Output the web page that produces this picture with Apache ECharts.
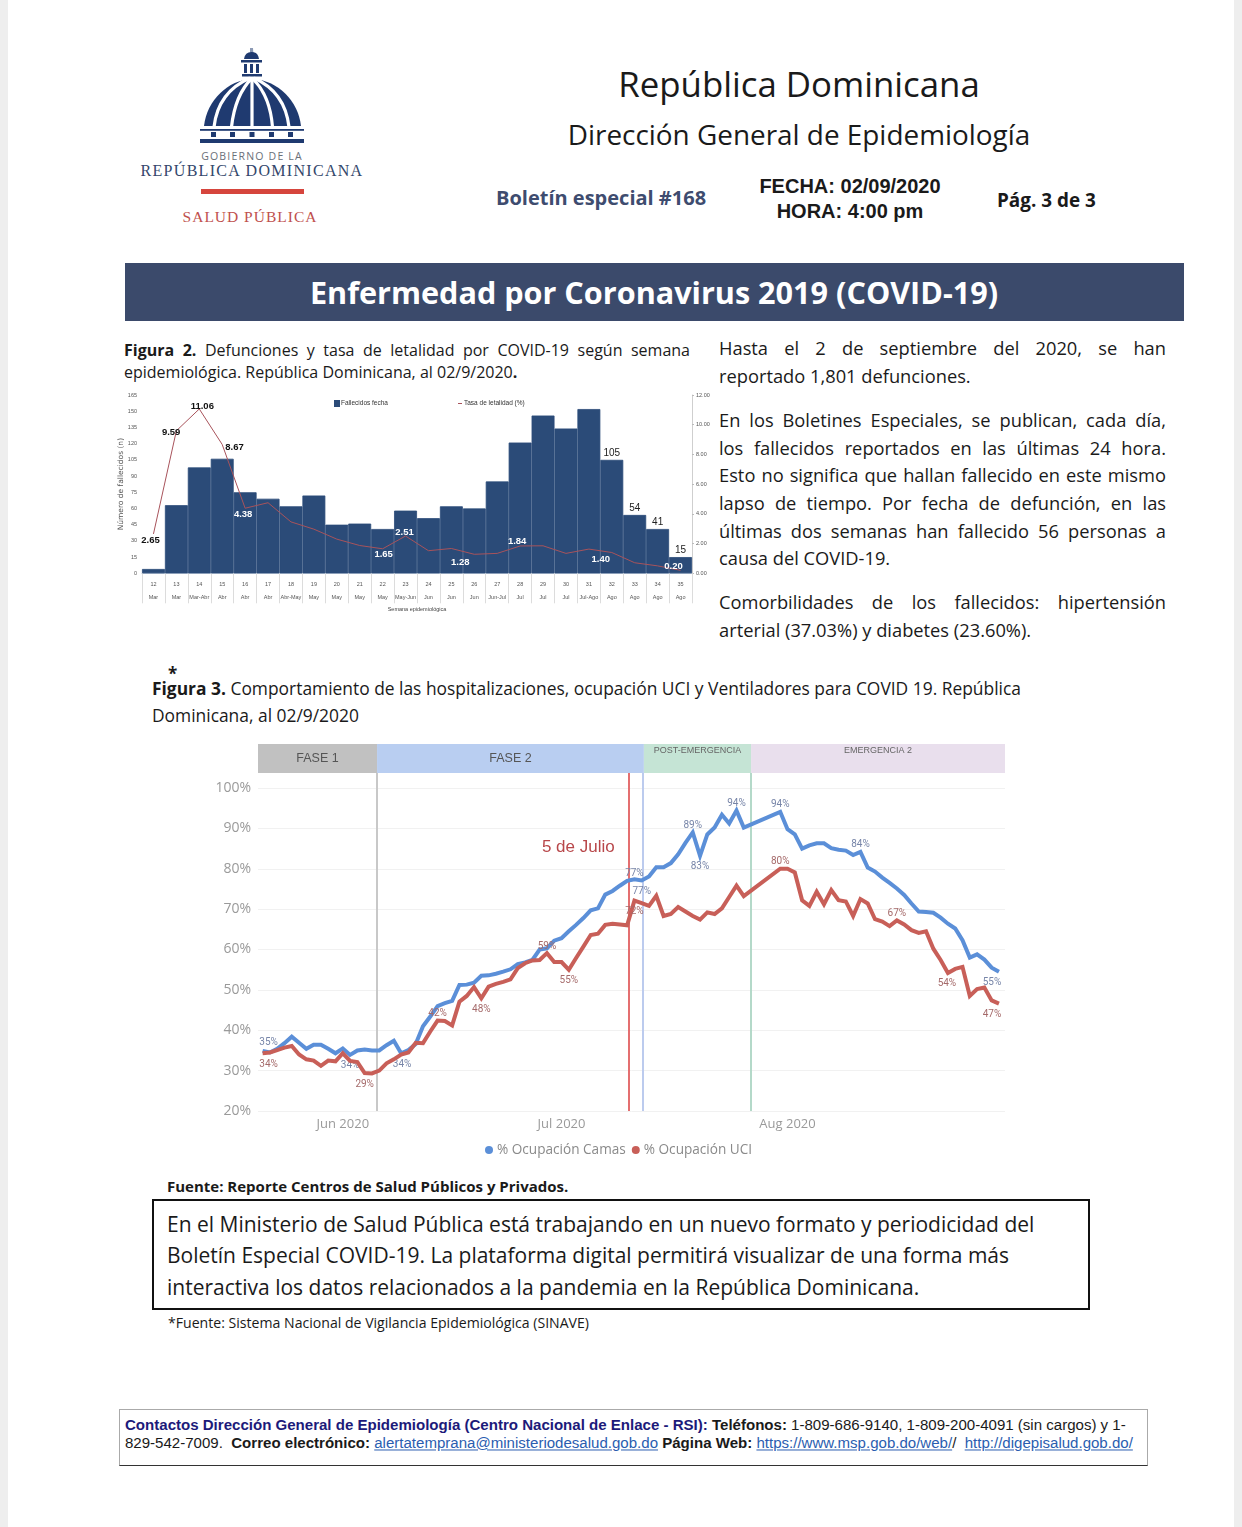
<!DOCTYPE html>
<html lang="es">
<head>
<meta charset="utf-8">
<title>Boletín especial #168</title>
<script src="https://cdn.jsdelivr.net/npm/echarts@6/dist/echarts.min.js"></script>
<style>
html,body{margin:0;padding:0;background:#fff;}
#page{position:relative;width:1242px;height:1527px;overflow:hidden;background:#fff;font-family:"Open Sans","Noto Sans",sans-serif;color:#1a1a1a;}
#chart{position:absolute;left:0;top:0;width:1242px;height:1527px;}
.t{position:absolute;white-space:nowrap;line-height:1;transform:translateY(-50%);}
.c{transform:translate(-50%,-50%);text-align:center;}
.j{text-align:justify;text-align-last:justify;white-space:normal;}
.ar{font-family:"Liberation Sans",Arial,sans-serif;}
.se{font-family:"Liberation Serif",serif;}
a{color:#2a5db0;text-decoration:underline;}
</style>
</head>
<body>
<div id="page">
  <div style="position:absolute;left:0;top:0;width:8px;height:1527px;background:#eeeeee;"></div>
  <div style="position:absolute;right:0;top:0;width:8px;height:1527px;background:#eeeeee;"></div>

  <svg style="position:absolute;left:0;top:0" width="400" height="240" viewBox="0 0 400 240">
    <path d="M250 48 L253 48 L253.5 57 L250 57 Z" fill="#8c9ab5"/>
    <path d="M244 59 Q245 52 251.5 52 Q258 52 259 59 Z" fill="#1f3a70"/>
    <rect x="241" y="60" width="21" height="2.5" fill="#1f3a70"/>
    <rect x="244" y="64" width="3" height="9" fill="#1f3a70"/><rect x="250" y="64" width="3" height="9" fill="#1f3a70"/><rect x="256" y="64" width="3" height="9" fill="#1f3a70"/>
    <rect x="242" y="74" width="20" height="2.5" fill="#1f3a70"/>
    <path d="M204 126 C207 100 228 80 252 79 C277 80 298 100 301 126 Z" fill="#1f3a70"/>
    <g fill="none" stroke="#fff" stroke-width="3.2">
      <path d="M252 78 L252 127"/>
      <path d="M252 78 Q235 95 231.5 127"/>
      <path d="M252 78 Q270 95 272.5 127"/>
      <path d="M250 78 Q218 92 214 127"/>
      <path d="M254 78 Q285 92 289 127"/>
    </g>
    <rect x="200" y="129" width="104" height="1.8" fill="#1f3a70"/>
    <g fill="#1f3a70"><rect x="211" y="132" width="5" height="5"/><rect x="230" y="132" width="5" height="5"/><rect x="249.500" y="132" width="5" height="5"/><rect x="269" y="132" width="5" height="5"/><rect x="288" y="132" width="5" height="5"/></g>
    <rect x="200" y="139" width="104" height="4" fill="#1f3a70"/>
    <rect x="201" y="189" width="103" height="5" fill="#d6453d"/>
  </svg>
  <div class="t c" style="left:252px;top:156px;font-size:10.500px;letter-spacing:1.200px;color:#6a6f78;">GOBIERNO DE LA</div>
  <div class="t c se" style="left:252px;top:171px;font-size:16px;letter-spacing:1.300px;color:#33476b;">REPÚBLICA DOMINICANA</div>
  <div class="t c se" style="left:250px;top:217px;font-size:15.500px;letter-spacing:1px;color:#c0504d;">SALUD PÚBLICA</div>

  <div class="t c" style="left:799px;top:84px;font-size:34.800px;">República Dominicana</div>
  <div class="t c" style="left:799px;top:135px;font-size:27.900px;">Dirección General de Epidemiología</div>
  <div class="t" style="left:496px;top:198px;font-size:20px;font-weight:700;color:#3e4c6f;">Boletín especial #168</div>
  <div class="t c ar" style="left:850px;top:186px;font-size:20px;font-weight:700;">FECHA: 02/09/2020</div>
  <div class="t c ar" style="left:850px;top:211px;font-size:20px;font-weight:700;">HORA: 4:00 pm</div>
  <div class="t" style="left:997px;top:200px;font-size:18.900px;font-weight:700;">Pág. 3 de 3</div>

  <div style="position:absolute;left:125px;top:263px;width:1059px;height:58px;background:#3b4a6b;"></div>
  <div class="t c" style="left:654px;top:292px;font-size:30.600px;font-weight:700;color:#fff;">Enfermedad por Coronavirus 2019 (COVID-19)</div>

  <div class="t j" style="left:124px;top:350px;width:566px;font-size:16px;"><b>Figura 2.</b> Defunciones y tasa de letalidad por COVID-19 según semana</div>
  <div class="t" style="left:124px;top:372px;font-size:16px;">epidemiológica. República Dominicana, al 02/9/2020<b>.</b></div>

  <div class="t j" style="left:719px;top:348px;width:447px;font-size:18.300px;">Hasta el 2 de septiembre del 2020, se han</div>
  <div class="t" style="left:719px;top:376px;font-size:18.300px;">reportado 1,801 defunciones.</div>
  <div class="t j" style="left:719px;top:420px;width:447px;font-size:18.300px;">En los Boletines Especiales, se publican, cada día,</div>
  <div class="t j" style="left:719px;top:448px;width:447px;font-size:18.300px;">los fallecidos reportados en las últimas 24 hora.</div>
  <div class="t j" style="left:719px;top:475px;width:447px;font-size:18.300px;">Esto no significa que hallan fallecido en este mismo</div>
  <div class="t j" style="left:719px;top:503px;width:447px;font-size:18.300px;">lapso de tiempo. Por fecha de defunción, en las</div>
  <div class="t j" style="left:719px;top:531px;width:447px;font-size:18.300px;">últimas dos semanas han fallecido 56 personas a</div>
  <div class="t" style="left:719px;top:558px;font-size:18.300px;">causa del COVID-19.</div>
  <div class="t j" style="left:719px;top:602px;width:447px;font-size:18.300px;">Comorbilidades de los fallecidos: hipertensión</div>
  <div class="t" style="left:719px;top:630px;font-size:18.300px;">arterial (37.03%) y diabetes (23.60%).</div>

  <div class="t" style="left:168px;top:673px;font-size:17px;font-weight:700;">*</div>
  <div class="t" style="left:152px;top:689px;font-size:17.400px;"><b>Figura 3.</b> Comportamiento de las hospitalizaciones, ocupación UCI y Ventiladores para COVID 19. República</div>
  <div class="t" style="left:152px;top:716px;font-size:17.400px;">Dominicana, al 02/9/2020</div>

  <div class="t" style="left:167px;top:1186px;font-size:15px;font-weight:700;">Fuente: Reporte Centros de Salud Públicos y Privados.</div>
  <div style="position:absolute;left:152px;top:1199px;width:934px;height:107px;border:2px solid #111;"></div>
  <div class="t" style="left:167px;top:1224px;font-size:21px;">En el Ministerio de Salud Pública está trabajando en un nuevo formato y periodicidad del</div>
  <div class="t" style="left:167px;top:1255px;font-size:21px;">Boletín Especial COVID-19. La plataforma digital permitirá visualizar de una forma más</div>
  <div class="t" style="left:167px;top:1287px;font-size:21px;">interactiva los datos relacionados a la pandemia en la República Dominicana.</div>
  <div class="t" style="left:168px;top:1323px;font-size:14.100px;">*Fuente: Sistema Nacional de Vigilancia Epidemiológica (SINAVE)</div>

  <div style="position:absolute;left:119px;top:1409px;width:1027px;height:55px;border:1px solid #aaa;border-bottom:1px solid #333;"></div>
  <div class="t ar" style="left:125px;top:1425px;font-size:15.050px;"><b style="color:#1c1a7a;">Contactos Dirección General de Epidemiología (Centro Nacional de Enlace - RSI):</b> <b>Teléfonos:</b> 1-809-686-9140, 1-809-200-4091 (sin cargos) y 1-</div>
  <div class="t ar" style="left:125px;top:1443px;font-size:15.050px;">829-542-7009.&nbsp; <b>Correo electrónico:</b> <a>alertatemprana@ministeriodesalud.gob.do</a> <b>Página Web:</b> <a>https://www.msp.gob.do/web/</a>/&nbsp; <a>http://digepisalud.gob.do/</a></div>

  <div id="chart"></div>
</div>
<script>
// ---- Figura 2 data ----
const semanas = ['12','13','14','15','16','17','18','19','20','21','22','23','24','25','26','27','28','29','30','31','32','33','34','35'];
const meses = ['Mar','Mar','Mar-Abr','Abr','Abr','Abr','Abr-May','May','May','May','May','May-Jun','Jun','Jun','Jun','Jun-Jul','Jul','Jul','Jul','Jul-Ago','Ago','Ago','Ago','Ago'];
const fallecidos = [4,63,98,106,75,69,62,72,45,46,41,58,51,62,60,85,121,146,134,152,105,54,41,15];
const tasaLetalidad = [2.65,9.59,11.06,8.67,4.38,4.75,3.46,2.97,2.30,1.87,1.65,2.51,1.52,1.67,1.28,1.34,1.84,1.85,1.34,1.63,1.40,0.71,0.50,0.20];
const barrasConEtiqueta = ['32','33','34','35'];
const tasaConEtiqueta = ['12','13','14','15','16','22','23','26','28','32','35'];
const ticksIzq = [0,165,15];
const ticksDer = [0,12,2];

// ---- Figura 3 data (one value per day; null = no reading in the source) ----
const camas = [34.9,34.5,35.4,36.8,38.4,36.9,35.4,36.4,36.4,35.4,34.3,35.5,33.9,35,35.2,35,35,36.3,37.4,34.3,35.1,36.6,41,43.4,46,46.7,47.3,51.2,51.3,51.8,53.5,53.6,54,54.5,55.1,56.4,56.8,57.4,60,60.3,62.2,62.8,64.5,66.1,67.8,69.7,70.2,73.6,74.5,75.8,77,77.4,77.1,78.1,80.4,80.4,81.4,83.6,86.4,89,83.2,88.5,90.2,93.4,91.2,94.4,90.2,null,null,null,null,94.1,89.8,88.5,85,85.8,86.3,86.3,85.1,84.7,84.5,83.4,84.2,80.3,79.3,77.8,76.5,75.1,73.5,71.4,69.4,69.3,69.1,67.9,66.4,65.2,62.3,58,58.8,57.5,55.5,54.5];
const uci = [34.3,34.5,35.1,35.7,36.1,34,32.8,32.5,31.2,32.5,32.3,34.3,32.4,32.1,29.4,29.3,30,31.8,32.8,34,34.5,36.9,36.8,39.7,42.4,42.3,41.2,47.1,48.5,50.7,47.9,50.8,51.5,52,52.6,55.4,56.6,57.3,57.4,59.1,56.9,56.9,55,57.9,60.7,63.6,63.9,66.1,66.4,66.2,66,72.1,71.5,70.8,73.3,68.3,68.8,70.5,69.4,68.3,67.4,69.2,68.8,70.2,73,75.8,73.2,null,null,null,null,80,80,79.1,72.2,70.8,74.3,71.2,74.7,72.2,71.9,68.3,72.5,71.4,67.5,66.9,65.8,67.2,66.2,64.8,64.1,64.5,60.2,57.4,54.2,55.2,55.7,48.5,50.2,50.6,47.4,46.6];
const mesesEje = ['Jun 2020','Jul 2020','Aug 2020'];
const diasMesEje = [11,41,72];
const fases = ['FASE 1','FASE 2','POST-EMERGENCIA','EMERGENCIA 2'];
const diasFase = [-0.63,15.7,52.3,67,101.83];
const diasLineas = [15.7,50.2,52.2,67];
const diaJulio5 = 43.3;
const camasEtiquetas = [0,12,19,51,52,59,60,65,71,82,101];
const uciEtiquetas = [0,14,24,30,39,42,51,71,87,94,101];

// ---- styles, kept apart from the data ----
const narrow = '"Liberation Sans",sans-serif';
const din = 'Roboto,"Open Sans",sans-serif';
const soft = '"Open Sans","Noto Sans",sans-serif';
const lineLabelStyle = {
  '12':{pos:'bottom',off:[-3,-1],color:'#111'}, '13':{pos:'left',off:[6,2],color:'#111'},
  '14':{pos:'top',off:[3,4],color:'#111'}, '15':{pos:'right',off:[1,3],color:'#111'},
  '16':{pos:'bottom',off:[-2,-1],color:'#fff'}, '22':{pos:'bottom',off:[1,-1],color:'#fff'},
  '23':{pos:'top',off:[-1,3],color:'#fff'}, '26':{pos:'bottom',off:[-14,1],color:'#fff'},
  '28':{pos:'top',off:[-3,2],color:'#fff'}, '32':{pos:'bottom',off:[-11,0],color:'#fff'},
  '35':{pos:'top',off:[-7,3],color:'#fff'}
};
const camasLabelStyle = {0:{pos:'top',off:[6,0]},12:{pos:'bottom',off:[0,3]},19:{pos:'bottom',off:[1,3]},51:{pos:'top',off:[0,2]},52:{pos:'bottom',off:[0,3]},59:{pos:'top',off:[0,1]},60:{pos:'bottom',off:[0,3]},65:{pos:'top',off:[0,1]},71:{pos:'top',off:[0,1]},82:{pos:'top',off:[0,1]},101:{pos:'bottom',off:[-7,3]}};
const uciLabelStyle = {0:{pos:'bottom',off:[6,3]},14:{pos:'bottom',off:[0,3]},24:{pos:'top',off:[0,1]},30:{pos:'bottom',off:[0,3]},39:{pos:'top',off:[0,1]},42:{pos:'bottom',off:[0,3]},51:{pos:'bottom',off:[0,3]},71:{pos:'top',off:[0,1]},87:{pos:'top',off:[0,1]},94:{pos:'bottom',off:[-1,3]},101:{pos:'bottom',off:[-7,3]}};
const lineColors = ['#c8c8c8','#e46f70','#bccbee','#b4d9c9'];
const bandColors = ['#c1c1c1','#b9cef1','#c5e4d5','#e9dfed'];
const BAND_LOW = 103.7, Y_TOP = 110.9;
const TINY = 0.01;

function dayItems(values, tagged, styles, color){
  const out = [];
  values.forEach((v,i)=>{
    if (v === null) return;
    const item = {value:[i,v]};
    if (tagged.includes(i)) {
      const s = styles[i];
      item.label = {show:true,position:s.pos,offset:s.off,distance:3,formatter:Math.round(v)+'%',color:color,fontFamily:din,fontSize:10,letterSpacing:0.4};
    }
    out.push(item);
  });
  return out;
}

const chart = echarts.init(document.getElementById('chart'),null,{renderer:'canvas'});
chart.setOption({
  animation:false,
  backgroundColor:'transparent',
  grid:[
    {left:142,top:395,width:550,height:178.3,containLabel:false},
    {left:258,top:744,width:747,height:367,containLabel:false}
  ],
  legend:[
    {data:['Fallecidos fecha'],left:334,top:400,icon:'rect',itemWidth:4,itemHeight:5,itemGap:2,selectedMode:false,padding:0,textStyle:{fontFamily:narrow,fontSize:6.5,color:'#333',padding:[0,0,0,-3]}},
    {data:['Tasa de letalidad (%)'],left:458,top:400,icon:'rect',itemWidth:4,itemHeight:1,selectedMode:false,padding:0,textStyle:{fontFamily:narrow,fontSize:6.5,color:'#333',padding:[0,0,0,-3]}},
    {data:['% Ocupación Camas','% Ocupación UCI'],left:485,top:1143,icon:'circle',itemWidth:8,itemHeight:8,itemGap:6,selectedMode:false,padding:0,textStyle:{fontFamily:soft,fontSize:13.6,color:'#8a8a8a',padding:[0,0,0,-1]}}
  ],
  xAxis:[
    {type:'category',gridIndex:0,data:semanas.map((w,i)=>w+'|'+meses[i]),
     axisLine:{lineStyle:{color:'#b9c6d8',width:1}},
     axisTick:{show:true,alignWithLabel:false,length:30,lineStyle:{color:'#dcdcdc'}},
     axisLabel:{interval:0,margin:5,formatter:v=>{const p=v.split('|');return '{w|'+p[0]+'}\n{m|'+p[1]+'}';},
       rich:{w:{fontFamily:narrow,fontSize:5.5,color:'#555',lineHeight:13},m:{fontFamily:narrow,fontSize:5.5,color:'#555',lineHeight:13}}},
     name:'Semana epidemiológica',nameLocation:'middle',nameGap:33,nameTextStyle:{fontFamily:narrow,fontSize:5.5,color:'#444'}},
    {type:'value',gridIndex:1,min:-0.63,max:101.83,
     splitLine:{show:false},axisLine:{show:false},axisTick:{show:false},
     axisLabel:{customValues:diasMesEje,margin:7,color:'#9a9a9a',fontFamily:soft,fontSize:13,
       formatter:v=>mesesEje[diasMesEje.indexOf(v)]||''}}
  ],
  yAxis:[
    {type:'value',gridIndex:0,min:ticksIzq[0],max:ticksIzq[1],interval:ticksIzq[2],
     splitLine:{show:false},axisLine:{show:false},axisTick:{show:false},
     axisLabel:{margin:5,fontFamily:narrow,fontSize:5.5,color:'#555'},
     name:'Número de fallecidos (n)',nameLocation:'middle',nameRotate:90,nameGap:17,nameMoveOverlap:false,
     nameTextStyle:{fontFamily:'"DejaVu Sans",sans-serif',fontSize:7.5,color:'#555'}},
    {type:'value',gridIndex:0,position:'right',min:ticksDer[0],max:ticksDer[1],interval:ticksDer[2],
     splitLine:{show:false},axisLine:{show:true,lineStyle:{color:'#cfcfcf'}},axisTick:{show:true,length:2,inside:false,lineStyle:{color:'#bbb'}},
     axisLabel:{margin:4,fontFamily:narrow,fontSize:5.5,color:'#555',formatter:v=>v.toFixed(2)}},
    {type:'value',gridIndex:1,min:20,max:Y_TOP,interval:10,
     splitLine:{show:true,lineStyle:{color:'#f1f1f1',width:1}},axisLine:{show:false},axisTick:{show:false},
     axisLabel:{margin:7,padding:[2,0,0,0],color:'#9a9a9a',fontFamily:soft,fontSize:14,formatter:v=>v<=100?v+'%':''}}
  ],
  series:[
    {name:'Fallecidos fecha',type:'bar',xAxisIndex:0,yAxisIndex:0,barCategoryGap:'0%',barGap:'0%',
     itemStyle:{color:'#2b4b78',borderColor:'#2b4b78',borderWidth:0.8},
     data:fallecidos.map((v,i)=>({value:v,label:{show:barrasConEtiqueta.includes(semanas[i]),position:'top',distance:1.5,color:'#222',fontFamily:narrow,fontSize:10}}))},
    {name:'Tasa de letalidad (%)',type:'line',xAxisIndex:0,yAxisIndex:1,symbol:'circle',symbolSize:TINY,showSymbol:true,showAllSymbol:true,z:4,
     lineStyle:{color:'#a8535b',width:1},itemStyle:{color:'#a8535b'},
     data:tasaLetalidad.map((v,i)=>{
       const s=lineLabelStyle[semanas[i]];
       if(!tasaConEtiqueta.includes(semanas[i])) return {value:v};
       return {value:v,label:{show:true,position:s.pos,offset:s.off,distance:2,formatter:v.toFixed(2),color:s.color,fontFamily:narrow,fontWeight:'bold',fontSize:9.5}};
     })},
    {name:'% Ocupación Camas',type:'line',xAxisIndex:1,yAxisIndex:2,symbol:'circle',symbolSize:TINY,showSymbol:true,showAllSymbol:true,z:3,
     lineStyle:{color:'#5b8fd8',width:4,join:'miter'},itemStyle:{color:'#5b8fd8'},
     data:dayItems(camas,camasEtiquetas,camasLabelStyle,'#7785a8'),
     markArea:{silent:true,z:5,
       data:fases.map((f,i)=>{
         const big=i<2;
         return [{xAxis:diasFase[i],yAxis:BAND_LOW,name:f,itemStyle:{color:bandColors[i],opacity:1},
           label:{show:true,position:big?'inside':'insideTop',distance:big?0:2,color:big?'#555':'#666',fontFamily:narrow,fontSize:big?12.5:9}},
           {xAxis:diasFase[i+1],yAxis:Y_TOP}];
       })},
     markLine:{silent:true,symbol:'none',z:2,label:{show:false},
       data:diasLineas.map((d,i)=>[{coord:[d,20],lineStyle:{color:lineColors[i],width:2,type:'solid'}},{coord:[d,BAND_LOW]}])}},
    {name:'% Ocupación UCI',type:'line',xAxisIndex:1,yAxisIndex:2,symbol:'circle',symbolSize:TINY,showSymbol:true,showAllSymbol:true,z:4,
     lineStyle:{color:'#c85f58',width:4,join:'miter'},itemStyle:{color:'#c85f58'},
     data:dayItems(uci,uciEtiquetas,uciLabelStyle,'#a56a6a'),
     markPoint:{silent:true,symbol:'circle',symbolSize:0,
       data:[{coord:[diaJulio5,85.4],label:{show:true,position:'inside',formatter:'5 de Julio',color:'#b8474a',fontFamily:'"Liberation Sans",sans-serif',fontSize:17}}]}}
  ]
});
</script>
</body>
</html>
